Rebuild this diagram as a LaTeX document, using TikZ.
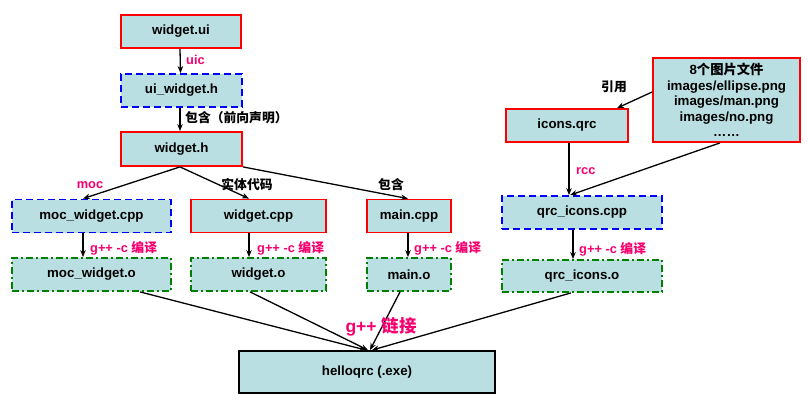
\documentclass[tikz,border=0pt]{standalone}
\usepackage{fontspec}
\setmainfont{Liberation Sans}
\newfontfamily\cjk{Noto Sans CJK SC}
\usetikzlibrary{arrows.meta}
\definecolor{boxfill}{RGB}{185,223,226}
\definecolor{lblpink}{RGB}{245,0,110}
\definecolor{objgreen}{RGB}{0,128,0}
\begin{document}
\begin{tikzpicture}[x=1pt,y=-1pt,
  box/.style={draw,fill=boxfill,line width=1.8pt,minimum height=33pt,inner sep=0pt,
    font=\bfseries\fontsize{13.3}{15}\selectfont},
  srcbox/.style={box,draw=red},
  genbox/.style={box,draw=blue,dash pattern=on 7pt off 4pt},
  objbox/.style={box,draw=objgreen,dash pattern=on 7pt off 3pt on 2pt off 3pt},
  exebox/.style={box,draw=black},
  arr/.style={-{Stealth[length=7pt,width=5.5pt]},line width=1.3pt},
  plbl/.style={text=lblpink,font=\bfseries\fontsize{12.8}{14}\selectfont,inner sep=0pt},
  klbl/.style={text=black,font=\bfseries\fontsize{12.8}{14}\selectfont,inner sep=0pt},
]
\useasboundingbox (0,0) rectangle (808,412);

% boxes
\node[srcbox,minimum width=120pt] (ui) at (181,31.5) {widget.ui};
\node[genbox,minimum width=121pt] (uih) at (181.5,90.5) {ui\_widget.h};
\node[srcbox,minimum width=121pt,minimum height=34pt] (wh) at (181.5,149) {widget.h};
\node[genbox,minimum width=159pt] (moccpp) at (91.5,216) {moc\_widget.cpp};
\node[srcbox,minimum width=135pt] (wcpp) at (258.5,216) {widget.cpp};
\node[srcbox,minimum width=84pt] (maincpp) at (409,216) {main.cpp};
\node[objbox,minimum width=159pt] (moco) at (91.5,274.5) {moc\_widget.o};
\node[objbox,minimum width=135pt] (wo) at (258.5,274.5) {widget.o};
\node[objbox,minimum width=84pt] (maino) at (409,274.5) {main.o};
\node[srcbox,minimum width=122pt] (icons) at (567,125.5) {icons.qrc};
\node[srcbox,minimum width=147pt,minimum height=84pt,align=center,
  font=\bfseries\fontsize{13.3}{15.5}\selectfont] (imgs) at (726.5,100)
  {8{\cjk 个图片文件}\\images/ellipse.png\\images/man.png\\images/no.png\\……};
\node[genbox,minimum width=160pt] (qrccpp) at (582,212.5) {qrc\_icons.cpp};
\node[objbox,minimum width=160pt,minimum height=32pt] (qrco) at (582,276) {qrc\_icons.o};
\node[exebox,minimum width=256pt,minimum height=42pt] (exe) at (367,372) {helloqrc (.exe)};

% connectors
\draw[arr] ([xshift=-1pt]ui.south) -- ([xshift=-1pt]uih.north);
\draw[arr] ([xshift=-1.5pt]uih.south) -- ([xshift=-1.5pt]wh.north);
\draw[arr] ([xshift=-1.5pt]wh.south) -- ([xshift=-8.5pt]moccpp.north);
\draw[arr] ([xshift=-1.5pt]wh.south) -- ([xshift=-9.5pt]wcpp.north);
\draw[arr] (wh.south east) -- ([xshift=-1pt]maincpp.north);
\draw[arr] ([xshift=-8.5pt]moccpp.south) -- ([xshift=-8.5pt]moco.north);
\draw[arr] ([xshift=-9.5pt]wcpp.south) -- ([xshift=-9.5pt]wo.north);
\draw[arr] ([xshift=-1pt]maincpp.south) -- ([xshift=-1pt]maino.north);
\draw[arr] ([xshift=2pt]icons.south) -- ([xshift=-13pt]qrccpp.north);
\draw[arr] ([xshift=-6.5pt]imgs.south) -- ([xshift=-12pt]qrccpp.north);
\draw[arr] ([yshift=8pt]imgs.west) -- ([xshift=50pt]icons.north);
\draw[arr] ([xshift=-9pt]qrccpp.south) -- ([xshift=-9pt]qrco.north);
\draw[arr] ([xshift=48.5pt]moco.south) -- ([xshift=-1pt]exe.north);
\draw[arr] ([xshift=-8.5pt]wo.south) -- ([xshift=1pt]exe.north);
\draw[arr] ([xshift=-9pt]maino.south) -- ([xshift=3pt]exe.north);
\draw[arr] ([xshift=-11pt]qrco.south) -- ([xshift=5pt]exe.north);

% labels
\node[plbl,anchor=west] (luic) at (186,60) {uic};
\node[klbl,anchor=west] (linc1) at (185,118) {\cjk 包含（前向声明）};
\node[plbl] (lmoc) at (90,185) {moc};
\node[klbl] (lbody) at (247,185) {\cjk 实体代码};
\node[klbl] (linc2) at (391,185) {\cjk 包含};
\node[plbl,anchor=west] (lc1) at (90,248) {g++ -c {\cjk 编译}};
\node[plbl,anchor=west] (lc2) at (257,248) {g++ -c {\cjk 编译}};
\node[plbl,anchor=west] (lc3) at (414,248) {g++ -c {\cjk 编译}};
\node[plbl,anchor=west] (lc4) at (579,249) {g++ -c {\cjk 编译}};
\node[plbl,anchor=west] (lrcc) at (576,171) {rcc};
\node[klbl] (lref) at (614,87) {\cjk 引用};
\node[plbl,font=\bfseries\fontsize{17.5}{19}\selectfont] (llink) at (381,327) {g++ {\cjk 链接}};
\end{tikzpicture}
\end{document}
